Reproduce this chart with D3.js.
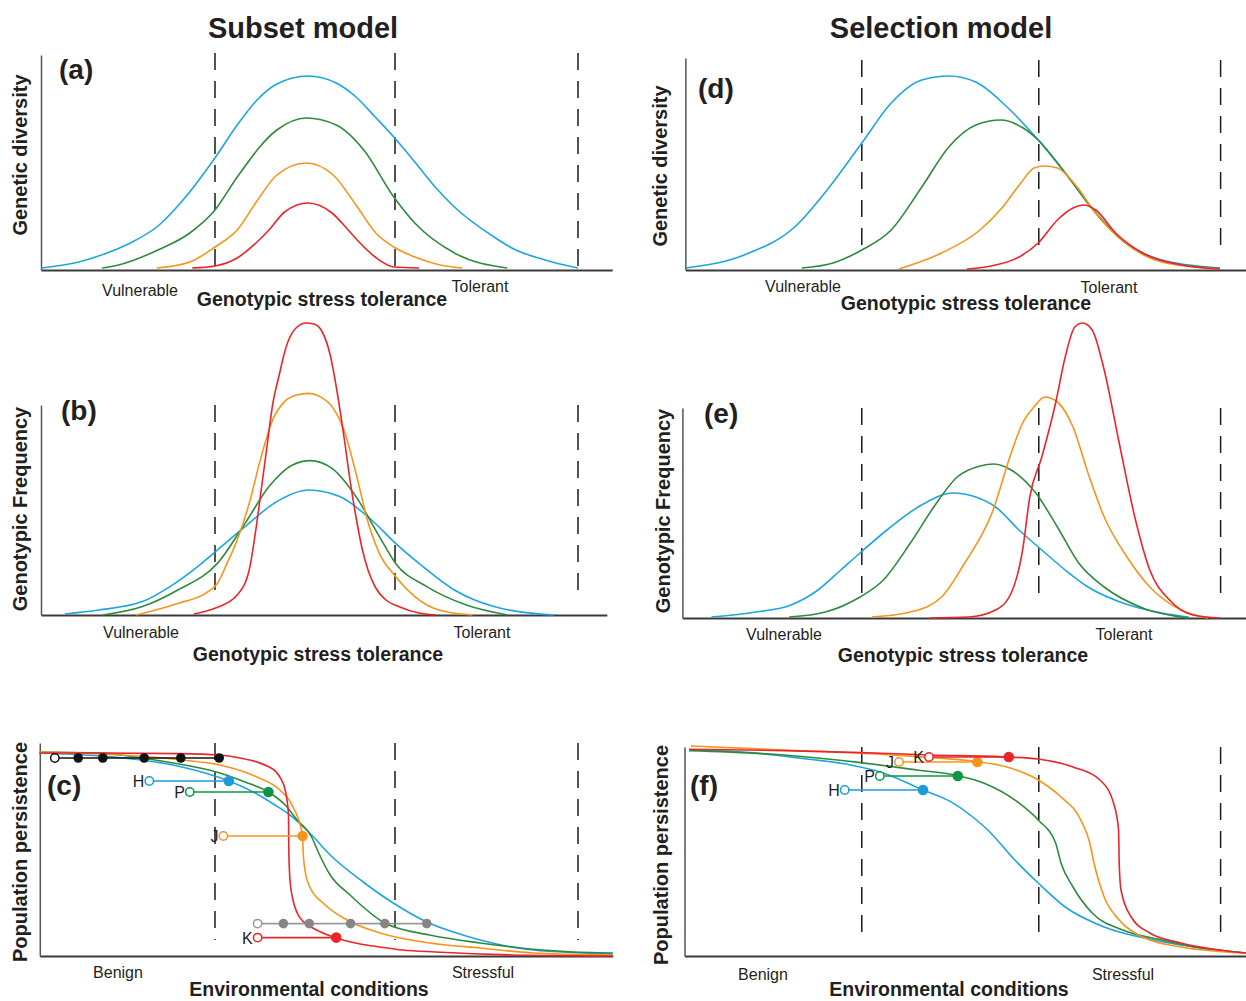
<!DOCTYPE html>
<html>
<head>
<meta charset="utf-8">
<script src="https://cdn.jsdelivr.net/npm/d3@7"></script>
<style>
  body { margin: 0; background: #fff; }
  text { font-family: "Liberation Sans", Arial, sans-serif; fill: #231f20; }
</style>
</head>
<body>
<svg width="1246" height="1001"></svg>
<script>
// Curves: [stress tolerance, height] in arbitrary units
// (a) Subset model - genetic diversity
var aBlue = [[1.1,1],[7.3,4],[12,8.5],[15.9,13.5],[20.5,22],[25.1,36.5],[30.1,56.5],[33.7,72.5],[37,85],[40.3,93],[45.5,97],[50.2,93.5],[53.5,86.5],[56.7,76.5],[59.8,66.5],[63.3,54],[66.7,41.5],[69.9,31.5],[76.5,16.5],[79.8,10.5],[85,5],[90.5,1]];
var aGreen = [[11.2,1],[13.9,2.5],[20.5,10],[25.8,18.5],[30,30],[33.7,46.5],[40.3,70],[45.2,76],[50.2,72.5],[54.8,60],[59.8,36.5],[63.3,23.5],[69.9,8.5],[78.7,1]];
var aOrange = [[20.3,1],[25.8,4],[30,11.5],[33.7,20],[37,34.5],[40.3,47.5],[45.2,53.5],[49.7,47.5],[53.5,32.5],[56.8,18.5],[59.8,11.5],[63.3,6.5],[67.5,2.5],[71.2,1]];
var aRed = [[26.2,1],[30,2],[33.7,6],[37,14],[39,20],[41.6,29],[45.5,33.5],[49.5,28.5],[52.2,20],[53.7,15],[56.7,6.5],[59.8,1.5],[64,1]];

// (b) Subset model - genotypic frequency
var bBlue = [[5,0.5],[10.6,2.5],[17.9,6.7],[22.5,14.2],[27.1,24.2],[30.4,32.5],[35,44.2],[40.3,56.7],[45.6,62.5],[50.8,59.2],[56.1,47.5],[60.1,35.8],[64,25.8],[69.9,12.5],[76.5,4.2],[86.4,0]];
var bGreen = [[11.3,0],[17.9,4.2],[23.8,12.5],[30.4,25.8],[35,45.8],[39,64.2],[42.9,75],[45.9,77.2],[49.5,73.3],[53.5,59.2],[57.4,39.2],[60.1,25.8],[65.3,14.2],[71.9,5],[78.8,0]];
var bOrange = [[16.9,0],[23.8,5.8],[28.4,10.8],[30.4,15.8],[32,25.8],[33.7,37.5],[35.7,55.8],[37.7,79.2],[39.6,97.5],[41.6,106.7],[43.6,110],[45.6,110.8],[47.5,109.2],[49.5,104.2],[51.5,92.5],[53.5,70.8],[55.4,47.5],[57.4,30.8],[60.1,19.2],[63.3,9.2],[67.3,2.5],[72.9,0]];
var bRed = [[26.5,0.5],[30.1,3.5],[33.7,10],[35.7,22.5],[36.8,42.5],[37.7,62.5],[38.7,85],[39.6,105],[40.7,120],[41.8,133.5],[43.5,143.5],[45.2,146],[46.5,145.5],[47.8,142],[49.2,130],[50.3,112.5],[51.5,89],[52.5,67.5],[53.5,49],[54.5,33.5],[55.5,22.5],[56.8,13.5],[58.3,8],[60.8,4],[64,1],[66.7,0]];

// (c) Subset model - population persistence
var cBlue = [[0.75,101.5],[10.8,100],[17.8,98],[24.5,94.5],[32.3,87.5],[36.7,81.5],[40,75.5],[42.5,70.5],[45.8,61.5],[49.2,50.5],[54.7,37],[59.7,26.5],[65.3,17],[71.3,10.5],[74.2,8],[83,3],[96.3,1]];
var cGreen = [[0.75,102],[10.8,101.5],[17.8,99],[23,96.5],[30.8,91.5],[35,87],[38.9,82],[41.7,75.5],[43.7,68],[46.1,59.5],[47.2,52],[49.2,40.5],[52.5,30.5],[58.3,16.5],[65.8,10.5],[74.2,6.5],[89.7,2],[96.3,1.5]];
var cOrange = [[0.75,102],[10.8,101],[17.2,100],[24.5,98],[30.8,95.5],[37,89.5],[40.8,83],[43,74.5],[44.6,60],[44.7,51.5],[45,43],[45.8,34.5],[48,26.5],[52,18],[57.5,11.5],[65.8,6.5],[74.2,4],[83.1,1.5],[96.3,0.5]];
var cRed = [[0.75,101.5],[10.8,101.5],[24.2,101.2],[30.7,100.5],[34.2,99],[37,97],[38.7,95],[40.2,92],[41,88.5],[41.7,83],[42,78],[42.25,70.5],[42.3,53],[42.5,38],[43,28],[43.7,21.5],[45,16.5],[46.3,14],[50.2,9],[54.2,6],[57.5,4.5],[61.3,3],[66.7,2],[79.8,0.5],[96.3,0]];
var cBlackLevel = 99;
var cBlackChain = [3.3, 7.2, 11.3, 18.2, 24.3, 30.7];
var cGreyLevel = 16.2;
var cGreyChain = [37.1, 41.4, 45.7, 52.6, 58.3, 65.3];
var cRowLabels = ["H", "P", "J", "K"];
var cRowSeries = ["blue", "green", "orange", "red"];
var cRowLevels = [87.5, 82, 60, 9.2];
var cRowStart = [19.05, 25.8, 31.4, 37.1];
var cRowEnd = [32.3, 38.9, 44.6, 50.2];

// (d) Selection model - genetic diversity
var dBlue = [[0.4,1],[10.2,7.5],[18.6,21.5],[24.4,41.5],[29.8,63.5],[34.7,83.5],[39.8,95],[44.3,97],[48.8,94],[54,81.5],[59.2,65],[63.7,48.5],[68.8,28.5],[73.3,15],[79.8,5],[89.5,1]];
var dGreen = [[19.8,1],[25,3.5],[29.8,10],[34.7,20],[39.8,41.5],[44.3,61.5],[48.8,72.5],[53,75],[56.7,71],[59.2,65],[63.7,48.5],[68.8,28.5],[73.3,14.5],[79.8,4.5],[89.5,0.75]];
var dOrange = [[36,0.5],[43.1,8.5],[49.5,20],[53.3,31.5],[56.3,43.5],[58.5,51],[60.2,52],[62.4,51],[65.7,41.5],[68.8,28.2],[73.3,14.5],[79.8,4],[89.5,0.5]];
var dRed = [[47.3,0.5],[52.1,2.5],[56,6.5],[59.2,13.5],[62.4,25],[65,31],[66.8,32.5],[68.8,30],[72.1,18.5],[76.6,8.5],[83,2.5],[89.5,0.5]];

// (e) Selection model - genotypic frequency
var eBlue = [[4.75,0.5],[12.2,3],[18,6.5],[22.5,14],[26.3,24],[29.5,32.5],[34,44],[39.2,55.5],[45,62.5],[48.8,60.5],[52.1,55.5],[56,44],[59.8,34],[63.7,24],[67.5,15.5],[73.3,7.5],[79.8,2.5],[84.3,0.5]];
var eGreen = [[17.7,0.5],[23.75,3],[29.5,10.5],[33.4,19],[37.9,37.5],[41.8,55.5],[45.7,70.5],[49.5,76],[51.8,77],[54.7,74],[58.8,62.5],[62.4,45.5],[65.95,27.5],[70.2,15.5],[76.6,5],[84.3,0]];
var eOrange = [[31.5,0.5],[37.9,3],[43.1,10.5],[46.95,27.5],[51.5,52.5],[54.7,82.5],[56.6,97.5],[58.5,105.5],[60.3,110.5],[62.4,108],[65,95.5],[67.5,72.5],[70.2,50.5],[74,30.5],[77.8,15.5],[83,4],[87.5,0]];
var eRed = [[41.2,0],[47.6,0.5],[52.1,4],[54.7,12.5],[56.6,34],[57.8,60.5],[59.8,80.5],[62.1,107.5],[63.7,130.5],[65.3,145.5],[66.6,147.5],[68.2,144],[70.2,124],[72.7,87.5],[75.3,50.5],[77.8,24],[81.1,9],[85,1.5],[89.5,0]];

// (f) Selection model - population persistence
var fBlue = [[1,103],[11.3,101.7],[19.6,98.9],[27.95,95.5],[33.5,91.4],[40,83],[44.6,77.2],[48.5,69],[50.8,63],[55.3,48],[59.2,36.5],[63.7,24.5],[70.2,14.5],[78.5,8],[86.25,4],[93.8,1.5]];
var fGreen = [[1,102.7],[16.8,100.5],[29.6,96.7],[39,93],[45.8,90.2],[50.2,86.4],[56,76.5],[59.2,68],[62.1,56.5],[63,46.5],[65,34.5],[68.2,21.5],[73.3,13],[79.8,8],[86.25,4],[93.8,1.5]];
var fOrange = [[1.3,105],[16.8,103],[29.6,101.4],[39,99.7],[49,97.2],[54,94.5],[59.2,88],[63,79.5],[66.3,68],[67.8,56.5],[68.5,46.5],[70.2,29.5],[72.7,18],[76.6,9.5],[83,4.5],[93.8,1.5]];
var fRed = [[1,103.4],[16.8,102.7],[29.6,101.7],[41.3,100.5],[54.2,99.5],[59.2,98.5],[65,94.5],[69.5,88],[71.75,76.5],[72.6,63],[72.7,46.5],[73,33],[74.7,19.5],[77.8,11.5],[83,6.5],[93.8,1.5]];
var fRowLabels = ["H", "P", "J", "K"];
var fRowSeries = ["blue", "green", "orange", "red"];
var fRowLevels = [83, 90, 97, 99.5];
var fRowStart = [26.95, 32.8, 36, 41];
var fRowEnd = [40, 45.8, 49.05, 54.3];

// threshold positions (dashed lines)
var leftThresholds = [30, 60, 90.5];
var rightThresholds = [29.8, 59.3, 89.6];

// styling
var lineColour = {blue: "#1ea5e0", green: "#2e8b3e", orange: "#f7941d", red: "#e8262b"};
var dotColour = {blue: "#1b9bd8", green: "#0e9447", orange: "#f7941d", red: "#e8262b"};

var svg = d3.select("svg");

var leftX = d3.scaleLinear().domain([0, 100]).range([35, 635]),
    rightX = d3.scaleLinear().domain([0, 100]).range([683, 1283]);

// Panel layout
var panels = [
  {tag: "(a)", x: leftX, base: 270, top: 55, from: 1, to: 96.2, thr: leftThresholds, dash: [1.5, 108.5],
   curves: [aBlue, aGreen, aOrange, aRed], tagPos: [59, 79],
   yTitle: "Genetic diversity", yTitlePos: [27, 155],
   lo: "Vulnerable", loPos: [140, 296], hi: "Tolerant", hiPos: [480, 292],
   xTitle: "Genotypic stress tolerance", xTitlePos: [322, 306]},
  {tag: "(b)", x: leftX, base: 615, top: 405, from: 1, to: 95.3, thr: leftThresholds, dash: [7.5, 105],
   curves: [bBlue, bGreen, bOrange, bRed], tagPos: [61, 420],
   yTitle: "Genotypic Frequency", yTitlePos: [27, 509],
   lo: "Vulnerable", loPos: [141, 638], hi: "Tolerant", hiPos: [482, 638],
   xTitle: "Genotypic stress tolerance", xTitlePos: [318, 661]},
  {tag: "(c)", x: leftX, base: 956, top: 743, from: 0.8, to: 96.3, thr: leftThresholds, dash: [8, 106.5],
   curves: [cBlue, cGreen, cOrange, cRed], tagPos: [47, 795],
   yTitle: "Population persistence", yTitlePos: [27, 852],
   lo: "Benign", loPos: [118, 978], hi: "Stressful", hiPos: [483, 978],
   xTitle: "Environmental conditions", xTitlePos: [309, 996],
   rows: {labels: cRowLabels, series: cRowSeries, levels: cRowLevels, start: cRowStart, end: cRowEnd}},
  {tag: "(d)", x: rightX, base: 270, top: 58, from: 0.4, to: 93.8, thr: rightThresholds, dash: [8.5, 105],
   curves: [dBlue, dGreen, dOrange, dRed], tagPos: [698, 98],
   yTitle: "Genetic diversity", yTitlePos: [667, 166],
   lo: "Vulnerable", loPos: [803, 292], hi: "Tolerant", hiPos: [1109, 293],
   xTitle: "Genotypic stress tolerance", xTitlePos: [966, 310]},
  {tag: "(e)", x: rightX, base: 618, top: 408, from: -0.1, to: 93.8, thr: rightThresholds, dash: [7.5, 105],
   curves: [eBlue, eGreen, eOrange, eRed], tagPos: [704, 423],
   yTitle: "Genotypic Frequency", yTitlePos: [670, 511],
   lo: "Vulnerable", loPos: [784, 640], hi: "Tolerant", hiPos: [1124, 640],
   xTitle: "Genotypic stress tolerance", xTitlePos: [963, 662]},
  {tag: "(f)", x: rightX, base: 956, top: 747, from: 0.25, to: 93.8, thr: rightThresholds, dash: [7, 104.5],
   curves: [fBlue, fGreen, fOrange, fRed], tagPos: [690, 795],
   yTitle: "Population persistence", yTitlePos: [668, 855],
   lo: "Benign", loPos: [763, 980], hi: "Stressful", hiPos: [1123, 980],
   xTitle: "Environmental conditions", xTitlePos: [949, 996],
   rows: {labels: fRowLabels, series: fRowSeries, levels: fRowLevels, start: fRowStart, end: fRowEnd}}
];
var seriesOrder = ["blue", "green", "orange", "red"];

// Column titles
svg.append("text").attr("x", 303).attr("y", 38).attr("text-anchor", "middle")
   .style("font-size", "29px").style("font-weight", "bold").text("Subset model");
svg.append("text").attr("x", 941).attr("y", 38).attr("text-anchor", "middle")
   .style("font-size", "29px").style("font-weight", "bold").text("Selection model");

function drawPanel(p) {
    var g = svg.append("g");
    var x = p.x.copy().domain([p.from, p.to]).range([p.x(p.from), p.x(p.to)]);
    var y = d3.scaleLinear().domain([0, (p.base - p.top) / 2]).range([p.base, p.top]);

    // dashed threshold lines
    g.selectAll(".thr").data(p.thr).enter().append("line")
        .attr("x1", function(d) { return x(d); }).attr("x2", function(d) { return x(d); })
        .attr("y1", y(p.dash[1])).attr("y2", y(p.dash[0]))
        .attr("stroke", "#1a1a1a").attr("stroke-width", 1.5)
        .attr("stroke-dasharray", "17,11");

    // axes (no ticks)
    var xa = g.append("g").attr("transform", "translate(0," + p.base + ")")
        .call(d3.axisBottom(x).tickValues([]).tickSizeOuter(0));
    xa.select(".domain").attr("stroke", "#3a3a3a").attr("stroke-width", 2);
    var ya = g.append("g").attr("transform", "translate(" + x(p.from) + ",0)")
        .call(d3.axisLeft(y).tickValues([]).tickSizeOuter(0));
    ya.select(".domain").attr("stroke", "#555").attr("stroke-width", 1.5);

    // curves
    var line = d3.line()
        .x(function(d) { return x(d[0]); })
        .y(function(d) { return y(d[1]); })
        .curve(d3.curveMonotoneX);
    p.curves.forEach(function(c, i) {
        g.append("path").datum(c)
            .attr("d", line)
            .attr("fill", "none")
            .attr("stroke", lineColour[seriesOrder[i]])
            .attr("stroke-width", 1.6);
    });

    // population markers
    if (p.rows) {
        if (p.tag === "(c)") {
            chain(g, x, y, cBlackChain, cBlackLevel, "#111", "#111");
            chain(g, x, y, cGreyChain, cGreyLevel, "#999", "#858585");
        }
        var r = p.rows;
        r.labels.forEach(function(lab, i) {
            var col = dotColour[r.series[i]];
            var yy = y(r.levels[i]);
            g.append("line").attr("x1", x(r.start[i])).attr("x2", x(r.end[i]))
                .attr("y1", yy).attr("y2", yy)
                .attr("stroke", col).attr("stroke-width", 1.6);
            g.append("circle").attr("cx", x(r.start[i])).attr("cy", yy).attr("r", 4.2)
                .attr("fill", "#fff").attr("stroke", col).attr("stroke-width", 1.5);
            g.append("circle").attr("cx", x(r.end[i])).attr("cy", yy).attr("r", 5.3)
                .attr("fill", col);
            g.append("text").attr("x", x(r.start[i]) - 5).attr("y", yy + 6)
                .attr("text-anchor", "end").style("font-size", "16px").text(lab);
        });
    }

    // texts
    g.append("text").attr("x", p.tagPos[0]).attr("y", p.tagPos[1])
        .style("font-size", "28px").style("font-weight", "bold").text(p.tag);
    g.append("text")
        .attr("transform", "translate(" + p.yTitlePos[0] + "," + p.yTitlePos[1] + ") rotate(-90)")
        .attr("text-anchor", "middle").style("font-size", "20px").style("font-weight", "bold")
        .text(p.yTitle);
    g.append("text").attr("x", p.loPos[0]).attr("y", p.loPos[1]).attr("text-anchor", "middle")
        .style("font-size", "16px").text(p.lo);
    g.append("text").attr("x", p.hiPos[0]).attr("y", p.hiPos[1]).attr("text-anchor", "middle")
        .style("font-size", "16px").text(p.hi);
    g.append("text").attr("x", p.xTitlePos[0]).attr("y", p.xTitlePos[1]).attr("text-anchor", "middle")
        .style("font-size", "19.5px").style("font-weight", "bold").text(p.xTitle);
}

// chain of dots joined by a line, first one open
function chain(g, x, y, pts, level, lineCol, dotCol) {
    var yy = y(level);
    g.append("line").attr("x1", x(pts[0])).attr("x2", x(pts[pts.length - 1]))
        .attr("y1", yy).attr("y2", yy).attr("stroke", lineCol).attr("stroke-width", 1.6);
    g.selectAll(null).data(pts).enter().append("circle")
        .attr("cx", function(d) { return x(d); }).attr("cy", yy)
        .attr("r", function(d, i) { return i === 0 ? 4.2 : 4.8; })
        .attr("fill", function(d, i) { return i === 0 ? "#fff" : dotCol; })
        .attr("stroke", function(d, i) { return i === 0 ? lineCol : "none"; })
        .attr("stroke-width", 1.5);
}

panels.forEach(drawPanel);
</script>
</body>
</html>
